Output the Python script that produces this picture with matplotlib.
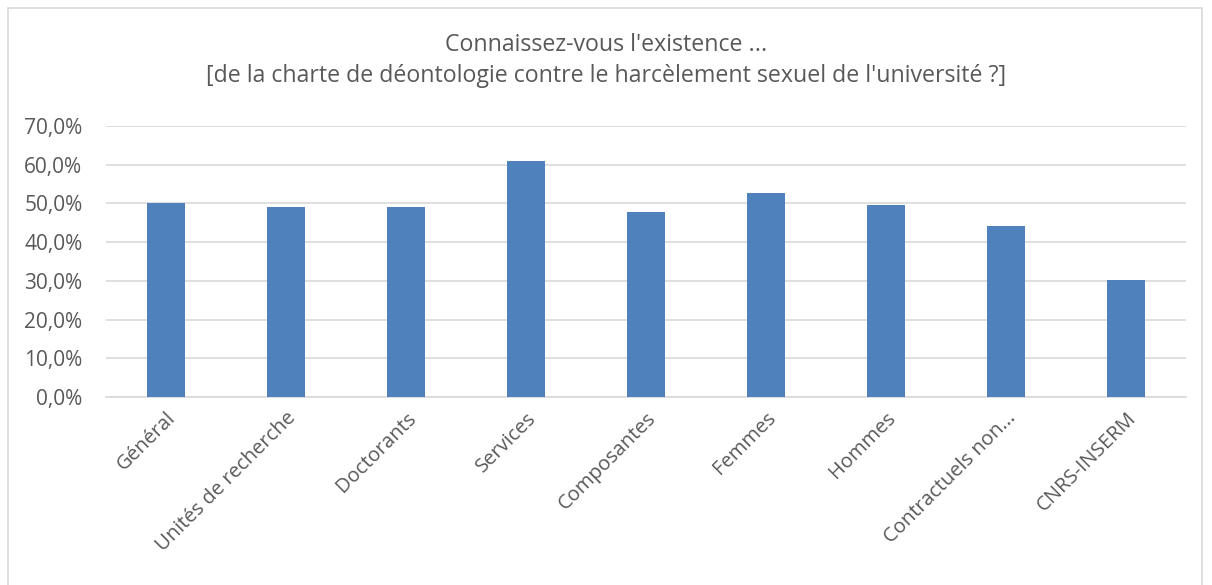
import matplotlib.pyplot as plt
from matplotlib.patches import Rectangle
from matplotlib.ticker import FuncFormatter

categories = ["Général", "Unités de recherche", "Doctorants", "Services",
              "Composantes", "Femmes", "Hommes", "Contractuels non...",
              "CNRS-INSERM"]
values = [50.2, 49.1, 49.1, 61.0, 47.8, 52.6, 49.6, 44.1, 30.3]

TEXT = "#595959"
BAR = "#4f81bd"
GRID = "#d9d9d9"

plt.rcParams["font.family"] = ["Open Sans", "DejaVu Sans"]

fig = plt.figure(figsize=(12.12, 5.85), dpi=100)
ax = fig.add_axes([106 / 1212, 1 - 397 / 585, (1186 - 106) / 1212, (397 - 126) / 585])

x = range(len(categories))
ax.bar(x, values, width=0.32, color=BAR, zorder=3)

ax.set_xlim(-0.5, len(categories) - 0.5)
ax.set_ylim(0, 70)
ax.set_yticks(range(0, 71, 10))
ax.yaxis.set_major_formatter(FuncFormatter(lambda v, _: f"{v:.1f}%".replace(".", ",")))
ax.set_xticks(list(x))
ax.set_xticklabels(categories, rotation=45, ha="right", rotation_mode="anchor")
ax.tick_params(axis="x", length=0, colors=TEXT, labelsize=14.5, pad=8)
ax.tick_params(axis="y", length=0, colors=TEXT, labelsize=15, pad=17)
ax.grid(axis="y", color=GRID, linewidth=1.2, zorder=0)
for s in ["top", "right", "left"]:
    ax.spines[s].set_visible(False)
ax.spines["bottom"].set_color(GRID)
ax.spines["bottom"].set_linewidth(1.2)

fig.text(0.5, 1 - 45 / 585, "Connaissez-vous l'existence ...", ha="center", va="center",
         fontsize=16.7, color=TEXT)
fig.text(0.5, 1 - 76 / 585,
         "[de la charte de déontologie contre le harcèlement sexuel de l'université ?]",
         ha="center", va="center", fontsize=16.7, color=TEXT)

fig.patches.append(Rectangle((8 / 1212, -0.01), (1202 - 8) / 1212, 1 - 8 / 585 + 0.01,
                             transform=fig.transFigure, fill=False,
                             edgecolor=GRID, linewidth=1.2))

fig.savefig("out.png", dpi=100)
